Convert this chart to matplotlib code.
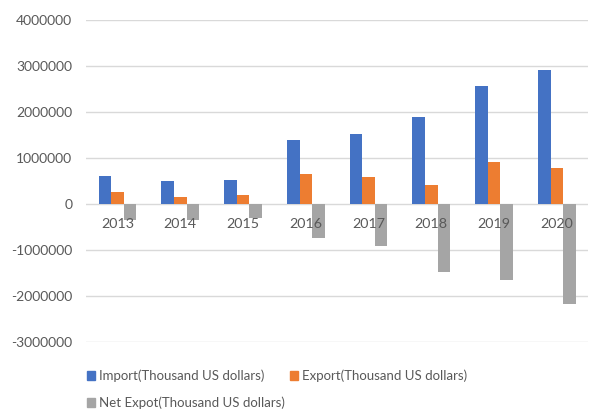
import numpy as np
import matplotlib.pyplot as plt
from matplotlib.patches import Patch

years = ["2013", "2014", "2015", "2016", "2017", "2018", "2019", "2020"]
imports = [600000, 490000, 525000, 1390000, 1515000, 1885000, 2560000, 2920000]
exports = [267000, 150000, 186000, 660000, 575000, 405000, 915000, 770000]
net_export = [-345000, -345000, -318000, -750000, -915000, -1478000, -1650000, -2190000]

plt.rcParams['font.family'] = ['Lato', 'DejaVu Sans']
txt = "#595959"

fig = plt.figure(figsize=(5.9, 4.12), dpi=100)
ax = fig.add_axes([0.146, 0.171, 0.851, 0.780])

x = np.arange(len(years))
w = 0.2
ax.bar(x - w, imports, w, color="#4472C4", zorder=2)
ax.bar(x, exports, w, color="#ED7D31", zorder=2)
ax.bar(x + w, net_export, w, color="#A5A5A5", zorder=2)

ax.set_xlim(-0.5, len(years) - 0.5)
ax.set_ylim(-3000000, 4000000)
ax.set_yticks(np.arange(-3000000, 4000001, 1000000))
ax.yaxis.set_major_formatter(plt.FuncFormatter(lambda v, p: "%d" % v))
ax.tick_params(axis="y", length=0, pad=10, labelsize=10, labelcolor=txt)
ax.set_xticks([])
ax.grid(axis="y", color="#d9d9d9", linewidth=1)
ax.set_axisbelow(True)
for s in ax.spines.values():
    s.set_visible(False)

for i, yr in enumerate(years):
    ax.annotate(yr, (i, 0), xytext=(0, -14.5), textcoords="offset points",
                ha="center", va="center", fontsize=10.3, color=txt, zorder=5)

handles = [Patch(color="#4472C4", label="Import(Thousand US dollars)"),
           Patch(color="#A5A5A5", label="Net Expot(Thousand US dollars)"),
           Patch(color="#ED7D31", label="Export(Thousand US dollars)")]
leg = fig.legend(handles=handles, ncol=2, loc="lower left",
                 bbox_to_anchor=(0.127, -0.022), frameon=False, fontsize=9.5,
                 handlelength=0.6, handleheight=0.6, handletextpad=0.3,
                 columnspacing=0.4, labelspacing=1.1, labelcolor=txt)

fig.savefig("out.png", dpi=100)
